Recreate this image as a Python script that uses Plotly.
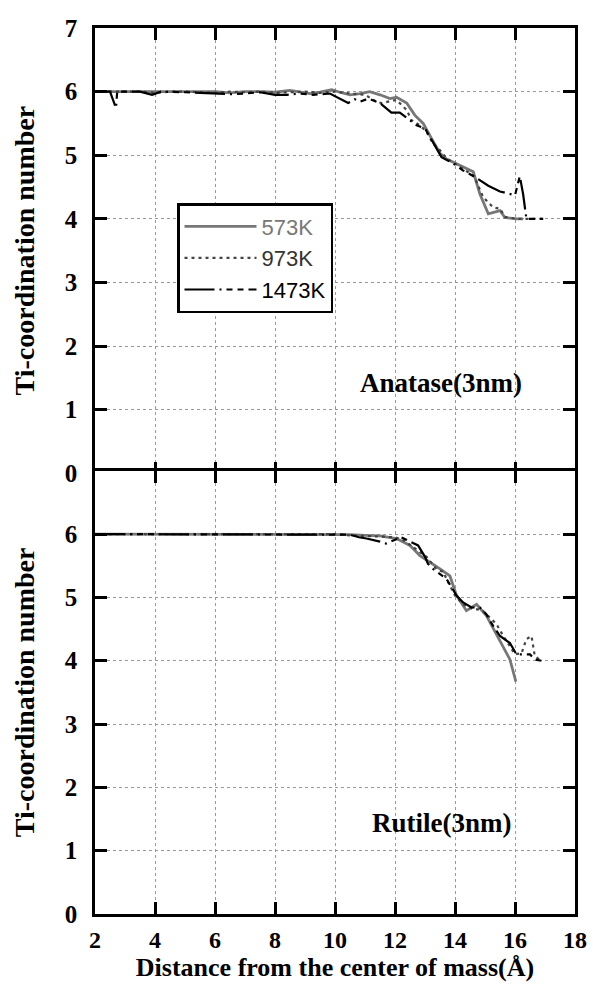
import plotly.graph_objects as go
from plotly.subplots import make_subplots

# ---------------- data ----------------
series_names = ["573K", "973K", "1473K"]

# Anatase (top panel)
ana_573_x = [2.0, 2.5, 3.0, 3.5, 4.0, 4.5, 5.0, 5.5, 6.0, 6.5, 7.0, 7.5, 8.0, 8.5, 8.83, 9.17, 9.5, 9.89,
             10.16, 10.5, 10.83, 11.16, 11.5, 11.83, 12.05, 12.39, 12.66, 12.94, 13.22, 13.5, 13.72, 14.16,
             14.61, 14.83, 15.11, 15.5, 15.66, 16.05, 16.27]
ana_573_y = [6.0, 6.0, 6.0, 5.99, 5.99, 6.0, 6.0, 5.99, 6.0, 5.98, 6.0, 6.0, 5.99, 6.02, 6.0, 5.97, 5.99, 6.03,
             5.99, 5.95, 5.97, 6.0, 5.95, 5.89, 5.91, 5.82, 5.63, 5.5, 5.26, 5.03, 4.94, 4.84,
             4.74, 4.39, 4.08, 4.13, 4.02, 4.0, 4.0]

ana_973_x = [2.0, 2.5, 3.0, 3.5, 4.0, 4.5, 5.0, 5.5, 6.0, 6.5, 7.0, 7.5, 8.0, 8.5, 9.0, 9.5, 10.0, 10.5,
             11.0, 11.39, 11.55, 12.05, 12.39, 12.55, 12.83, 13.05, 13.27, 13.5, 13.72, 14.16, 14.61, 14.72,
             14.94, 15.27, 15.5, 15.66, 16.05, 16.5, 16.94]
ana_973_y = [6.0, 6.0, 6.0, 6.0, 5.98, 6.0, 6.0, 5.99, 5.98, 6.0, 5.99, 6.0, 5.98, 5.99, 6.0, 5.98, 6.0, 5.97,
             5.95, 5.84, 5.82, 5.87, 5.71, 5.55, 5.47, 5.37, 5.18, 5.08, 4.95, 4.82, 4.68, 4.58,
             4.34, 4.18, 4.16, 4.03, 4.0, 4.0, 4.0]

ana_1473_x = [2.0, 2.5, 2.7, 2.74, 3.5, 3.9, 4.2, 4.5, 5.0, 5.5, 6.0, 6.5, 7.0, 7.5, 8.0, 8.4, 8.83, 9.27,
              9.83, 10.05, 10.44, 10.66, 10.83, 11.11, 11.5, 11.88, 12.16, 12.5, 12.72, 13.0, 13.27, 13.55,
              13.94, 14.27, 14.66, 15.11, 15.5, 16.0, 16.16, 16.27, 16.38, 16.94]
ana_1473_y = [6.0, 6.0, 5.74, 6.0, 6.0, 5.95, 6.0, 6.0, 5.99, 5.98, 5.97, 5.96, 5.97, 5.99, 5.95, 5.95, 5.97, 5.95,
              5.97, 5.92, 5.82, 5.88, 5.84, 5.89, 5.82, 5.67, 5.67, 5.55, 5.47, 5.42, 5.21, 4.97,
              4.87, 4.76, 4.66, 4.52, 4.43, 4.37, 4.67, 4.39, 4.0, 4.0]

# Rutile (bottom panel)
rut_573_x = [2.0, 3.0, 4.0, 5.0, 6.0, 7.0, 8.0, 9.0, 10.0, 10.5, 11.0, 11.5, 12.05, 12.5, 12.83, 13.16,
             13.5, 13.83, 14.05, 14.38, 14.72, 15.05, 15.38, 15.72, 15.83, 16.03]
rut_573_y = [6.0, 6.0, 6.0, 6.0, 6.0, 6.0, 6.0, 6.0, 6.0, 5.99, 5.98, 5.97, 5.93, 5.82, 5.66, 5.56,
             5.45, 5.34, 5.03, 4.79, 4.89, 4.71, 4.42, 4.1, 4.02, 3.67]

rut_973_x = [2.0, 3.0, 4.0, 5.0, 6.0, 7.0, 8.0, 9.0, 9.5, 10.0, 10.5, 11.0, 11.5, 12.0, 12.3, 12.66,
             13.05, 13.38, 13.61, 13.77, 14.0, 14.27, 14.61, 14.88, 15.16, 15.38, 15.61, 15.83, 16.0,
             16.22, 16.38, 16.55, 16.66, 16.88]
rut_973_y = [6.0, 6.0, 6.0, 6.0, 6.0, 6.0, 6.0, 6.0, 6.0, 6.0, 5.98, 5.97, 5.95, 5.95, 5.9, 5.78,
             5.64, 5.45, 5.4, 5.24, 5.03, 4.89, 4.81, 4.81, 4.68, 4.58, 4.39, 4.23, 4.1,
             4.12, 4.34, 4.39, 4.07, 4.0]

rut_1473_x = [2.0, 3.0, 4.0, 5.0, 6.0, 7.0, 8.0, 9.0, 10.0, 10.5, 10.8, 11.05, 11.5, 11.7, 12.2, 12.5,
              12.66, 12.77, 13.0, 13.1, 13.27, 13.72, 14.05, 14.27, 14.55, 14.83, 15.05, 15.27, 15.5,
              15.83, 16.05, 16.5, 16.66, 16.88]
rut_1473_y = [6.0, 6.0, 6.0, 6.0, 6.0, 6.0, 6.0, 6.0, 6.0, 5.99, 5.95, 5.93, 5.88, 5.85, 5.95, 5.88,
              5.85, 5.82, 5.64, 5.53, 5.45, 5.29, 5.03, 4.92, 4.84, 4.84, 4.73, 4.55, 4.39,
              4.28, 4.1, 4.1, 4.02, 4.0]

x_ticks = [2, 4, 6, 8, 10, 12, 14, 16, 18]
y_ticks_top = [0, 1, 2, 3, 4, 5, 6, 7]
y_ticks_bottom = [0, 1, 2, 3, 4, 5, 6]
panel_labels = ["Anatase(3nm)", "Rutile(3nm)"]
x_title = "Distance from the center of mass(Å)"
y_title = "Ti-coordination number"

# ---------------- styles ----------------
styles = {
    "573K": dict(color="#777777", width=2.8, dash="solid"),
    "973K": dict(color="#444444", width=2.2, dash="3px,4px"),
    "1473K": dict(color="#000000", width=2.2, dash="30px,5px,2px,5px,6px,5px,6px,5px"),
}
legend_text_color = {"573K": "#777777", "973K": "#333333", "1473K": "#000000"}

SERIF = "Liberation Serif, Times New Roman, serif"
SANS = "Liberation Sans, Arial, sans-serif"

fig = make_subplots(rows=2, cols=1, shared_xaxes=False, vertical_spacing=0.0)

top_data = [(ana_573_x, ana_573_y), (ana_973_x, ana_973_y), (ana_1473_x, ana_1473_y)]
bot_data = [(rut_573_x, rut_573_y), (rut_973_x, rut_973_y), (rut_1473_x, rut_1473_y)]

for name, (xs, ys) in zip(series_names, top_data):
    fig.add_trace(go.Scatter(x=xs, y=ys, mode="lines", line=styles[name],
                             name=f'<span style="color:{legend_text_color[name]}">{name}</span>',
                             showlegend=True), row=1, col=1)
for name, (xs, ys) in zip(series_names, bot_data):
    fig.add_trace(go.Scatter(x=xs, y=ys, mode="lines", line=styles[name],
                             name=name, showlegend=False), row=2, col=1)

LW = 2.5
PLOT_H = 886
split = 442 / PLOT_H
half = (LW / 2) / PLOT_H  # overlap so both axis lines fall on the same pixel row

axis_common = dict(
    showline=True, linewidth=LW, linecolor="black", mirror="ticks",
    ticks="inside", ticklen=12, tickwidth=2.5, tickcolor="black",
    showgrid=True, gridcolor="#999999", gridwidth=1, griddash="dot",
    zeroline=False,
    tickfont=dict(family=SERIF, size=25, color="black", weight="bold"),
)
title_font = dict(family=SERIF, size=28, color="black", weight="bold")

fig.update_xaxes(range=[2, 18], tickvals=x_ticks, **axis_common)
fig.update_xaxes(showticklabels=False, row=1, col=1)
fig.update_xaxes(ticklabelstandoff=2,
                 tickfont=dict(family=SERIF, size=24, color="black", weight="bold"),
                 title=dict(text=x_title, font=dict(family=SERIF, size=26, color="black", weight="bold"),
                            standoff=0),
                 row=2, col=1)

fig.update_yaxes(range=[0, 7], ticklabelstandoff=10, **axis_common)
fig.update_yaxes(tickvals=y_ticks_top, domain=[split - half, 1.0], row=1, col=1,
                 title=dict(text=y_title, font=title_font, standoff=22))
fig.update_yaxes(tickvals=y_ticks_bottom, domain=[0.0, split + half], row=2, col=1,
                 title=dict(text=y_title, font=title_font, standoff=22))

fig.add_annotation(x=13.53, y=1.42, xref="x", yref="y", text=panel_labels[0], showarrow=False,
                   font=dict(family=SERIF, size=27, color="black", weight="bold"))
fig.add_annotation(x=13.55, y=1.44, xref="x2", yref="y2", text=panel_labels[1], showarrow=False,
                   font=dict(family=SERIF, size=27, color="black", weight="bold"))

fig.update_layout(
    width=593, height=984,
    margin=dict(l=95, r=18, t=28, b=70, autoexpand=False),
    paper_bgcolor="white", plot_bgcolor="white",
    legend=dict(x=(177 - 95) / 480, y=(914 - 203) / PLOT_H, xanchor="left", yanchor="top",
                bgcolor="white", bordercolor="black", borderwidth=2.5,
                font=dict(family=SANS, size=22, color="black"),
                itemwidth=72, entrywidth=80, entrywidthmode="pixels",
                tracegroupgap=0, traceorder="normal"),
)

fig.write_html("out.html")
